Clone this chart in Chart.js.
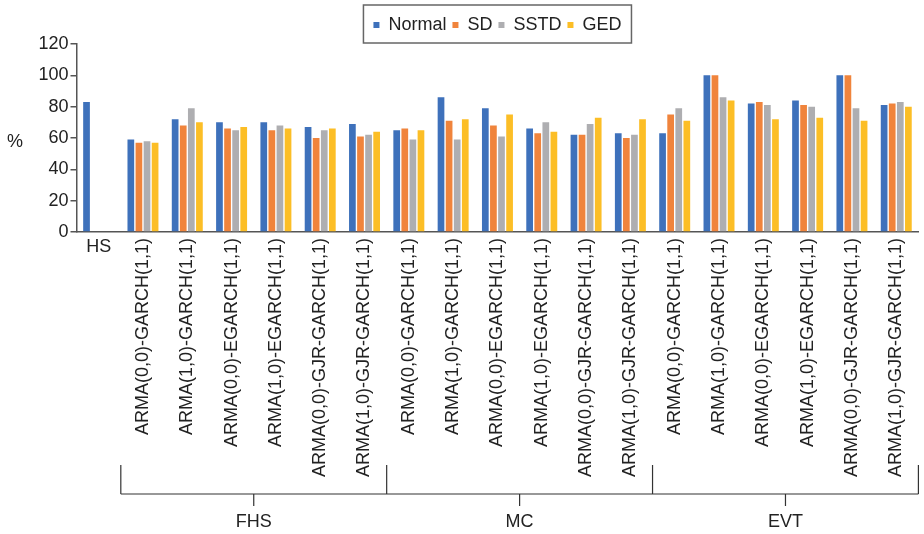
<!DOCTYPE html>
<html>
<head>
<meta charset="utf-8">
<script src="https://cdn.jsdelivr.net/npm/chart.js@4"></script>
<style>
  html, body { margin: 0; padding: 0; background: #fff; }
  #wrap { width: 924px; height: 534px; }
</style>
</head>
<body>
<div id="wrap"><canvas id="myChart" width="924" height="534"></canvas></div>
<script>
const categories = ['HS',
  'ARMA(0,0)-GARCH(1,1)', 'ARMA(1,0)-GARCH(1,1)', 'ARMA(0,0)-EGARCH(1,1)',
  'ARMA(1,0)-EGARCH(1,1)', 'ARMA(0,0)-GJR-GARCH(1,1)', 'ARMA(1,0)-GJR-GARCH(1,1)',
  'ARMA(0,0)-GARCH(1,1)', 'ARMA(1,0)-GARCH(1,1)', 'ARMA(0,0)-EGARCH(1,1)',
  'ARMA(1,0)-EGARCH(1,1)', 'ARMA(0,0)-GJR-GARCH(1,1)', 'ARMA(1,0)-GJR-GARCH(1,1)',
  'ARMA(0,0)-GARCH(1,1)', 'ARMA(1,0)-GARCH(1,1)', 'ARMA(0,0)-EGARCH(1,1)',
  'ARMA(1,0)-EGARCH(1,1)', 'ARMA(0,0)-GJR-GARCH(1,1)', 'ARMA(1,0)-GJR-GARCH(1,1)'];

const groupNames = ['FHS', 'MC', 'EVT'];
const groupSizes = [6, 6, 6];

const normal = [83, 59, 72, 70, 70, 67, 69, 65, 86, 79, 66, 62, 63, 63, 100, 82, 84, 100, 81];
const sd     = [null, 57, 68, 66, 65, 60, 61, 66, 71, 68, 63, 62, 60, 75, 100, 83, 81, 100, 82];
const sstd   = [null, 58, 79, 65, 68, 65, 62, 59, 59, 61, 70, 69, 62, 79, 86, 81, 80, 79, 83];
const ged    = [null, 57, 70, 67, 66, 66, 64, 65, 72, 75, 64, 73, 72, 71, 84, 72, 73, 71, 80];

const yTicks = [0, 20, 40, 60, 80, 100, 120];

const FONT = "'Liberation Sans', Arial, sans-serif";
const TEXT = '#222';
const AXIS = '#555';

Chart.defaults.font.family = FONT;
Chart.defaults.font.size = 18;
Chart.defaults.color = TEXT;

// extra drawing: HS label, legend border, "%" title, group brackets
const extras = {
  id: 'extras',
  afterDraw(chart) {
    const c = chart.ctx;
    const x = chart.scales.x;
    const area = chart.chartArea;
    const step = x.getPixelForValue(1) - x.getPixelForValue(0);

    c.save();
    c.fillStyle = TEXT;
    c.font = '18px ' + FONT;
    c.textAlign = 'center';
    c.textBaseline = 'middle';
    c.fillText(categories[0], x.getPixelForValue(0), area.bottom + 15);
    c.fillText('%', 15, 142);

    // legend frame
    const lg = chart.legend;
    const hb = lg.legendHitBoxes;
    const last = hb[hb.length - 1];
    c.strokeStyle = '#666';
    c.lineWidth = 1.5;
    c.strokeRect(hb[0].left - 10, 5, last.left + last.width - hb[0].left + 20, area.top - 6);

    // group brackets
    c.strokeStyle = '#333';
    c.lineWidth = 1.2;
    let start = 1;
    const yTop = 465, yLine = 494;
    const xFirst = x.getPixelForValue(1) - step / 2;
    const xEnd = x.getPixelForValue(categories.length - 1) + step / 2;
    c.beginPath();
    c.moveTo(xFirst, yLine); c.lineTo(xEnd, yLine);
    c.moveTo(xFirst, yTop); c.lineTo(xFirst, yLine);
    groupSizes.forEach((n, i) => {
      const x0 = x.getPixelForValue(start) - step / 2;
      const x1 = x.getPixelForValue(start + n - 1) + step / 2;
      c.moveTo(x1, yTop); c.lineTo(x1, yLine);
      const xm = (x0 + x1) / 2;
      c.moveTo(xm, yLine); c.lineTo(xm, yLine + 12);
      c.fillText(groupNames[i], xm, 522);
      start += n;
    });
    c.stroke();
    c.restore();
  }
};

const ctx = document.getElementById('myChart');

new Chart(ctx, {
  type: 'bar',
  data: {
    labels: categories,
    datasets: [
      { label: 'Normal', data: normal, backgroundColor: '#3E71BB' },
      { label: 'SD', data: sd, backgroundColor: '#F0843C' },
      { label: 'SSTD', data: sstd, backgroundColor: '#AEAEB1' },
      { label: 'GED', data: ged, backgroundColor: '#FCBE26' }
    ]
  },
  options: {
    responsive: false,
    animation: false,
    layout: { padding: { top: 10, left: 0, right: 1, bottom: 0 } },
    datasets: {
      bar: { categoryPercentage: 0.73, barPercentage: 0.83 }
    },
    plugins: {
      tooltip: { enabled: false },
      legend: {
        position: 'top',
        fullSize: false,
        labels: {
          boxWidth: 6,
          boxHeight: 6,
          padding: 6,
          color: TEXT,
          font: { size: 18 }
        }
      }
    },
    scales: {
      x: {
        grid: { display: false, drawTicks: false },
        border: { display: true, color: AXIS, width: 1.5 },
        ticks: {
          autoSkip: false,
          minRotation: 90,
          maxRotation: 90,
          padding: 6,
          color: TEXT,
          font: { size: 18 },
          callback: function (v, i) { return i === 0 ? '' : categories[i]; }
        },
        afterFit: (s) => { s.height = 302; }
      },
      y: {
        min: 0,
        max: 120,
        afterBuildTicks: (s) => { s.ticks = yTicks.map(v => ({ value: v })); },
        grid: { display: true, drawOnChartArea: false, drawTicks: true, tickLength: 6, color: AXIS, lineWidth: 1.5 },
        border: { display: true, color: AXIS, width: 1.5 },
        ticks: { padding: 2, color: TEXT, font: { size: 18 } },
        afterFit: (s) => { s.width = 76.5; }
      }
    }
  },
  plugins: [extras]
});
</script>
</body>
</html>
